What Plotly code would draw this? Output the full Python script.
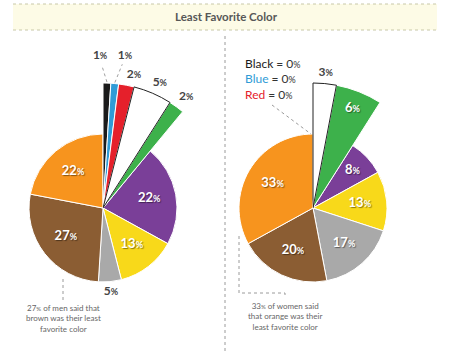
import numpy as np
import plotly.graph_objects as go

# ---------------- data ----------------
categories = ["Black", "Blue", "Red", "White", "Green", "Purple", "Yellow", "Gray", "Brown", "Orange"]
men_pct = [1, 1, 2, 5, 2, 22, 13, 5, 27, 22]
women_pct = [0, 0, 0, 3, 6, 8, 13, 17, 20, 33]
title_text = "Least Favorite Color"

# ---------------- style ----------------
W, H = 450, 351
fill = {"Black": "#1b1b1b", "Blue": "#2f9bd6", "Red": "#e5202b", "White": "#ffffff",
        "Green": "#3db14b", "Purple": "#7a3f98", "Yellow": "#f8d91a", "Gray": "#a9a9a9",
        "Brown": "#8b5d33", "Orange": "#f7941e"}
legend_col = {"Black": "#1b1b1b", "Blue": "#2f9bd6", "Red": "#e5202b"}
exploded = {"Black", "Blue", "Red", "White", "Green"}
R_IN, R_EX = 74, 125          # slice radii (px)
S_MAIN, S_EX = 90, 160        # polar radial extents (px)
SECTOR = [32, 96]
FONT = "Lato"

# label placement (style): category -> (radius, theta nudge, inside?)
men_lab = {"Black": (152, -2.9, False), "Blue": (154, 2.8, False), "Red": (137, 2.3, False),
           "White": (137, 1.1, False), "Green": (139, 0.8, False), "Gray": (84, 0, False)}
women_lab = {"White": (136, 0, False), "Green": (107, 0, True), "Purple": (54, 0, True)}
LEAD = {"Black", "Blue"}


def full_domain(cx, cy, r):
    return dict(x=[(cx - r) / W, (cx + r) / W], y=[(H - cy - r) / H, (H - cy + r) / H])


def sector_domain(cx, cy, r):
    xa = min(0.0, np.cos(np.deg2rad(SECTOR[1])))
    xb = np.cos(np.deg2rad(SECTOR[0]))
    return dict(x=[(cx + r * xa) / W, (cx + r * xb) / W], y=[(H - cy) / H, (H - cy + r) / H])


def pct_text(v, small):
    return f"{v}<span style='font-size:{small}px'>%</span>"


fig = go.Figure()


def add_chart(values, sub_main, sub_ex, labcfg):
    starts = np.concatenate([[0], np.cumsum(values)[:-1]])
    groups = {sub_main: dict(th=[], wd=[], rr=[], cols=[], lcol=[]),
              sub_ex: dict(th=[], wd=[], rr=[], cols=[], lcol=[])}
    labels = {}
    leads = []
    for c, v, s in zip(categories, values, starts):
        if v <= 0:
            continue
        mid = (s + v / 2) * 3.6
        big = c in exploded
        g = groups[sub_ex if big else sub_main]
        g["th"].append(mid)
        g["wd"].append(v * 3.6)
        g["rr"].append(R_EX if big else R_IN)
        g["cols"].append(fill[c])
        g["lcol"].append("#222222" if c == "White" else "#ffffff")
        rad, nudge, inside = labcfg.get(c, (47, 0, True))
        sub = sub_ex if rad > S_MAIN - 3 else sub_main
        key = (sub, inside)
        d = labels.setdefault(key, dict(r=[], t=[], s=[]))
        d["r"].append(rad)
        d["t"].append(mid + nudge)
        d["s"].append(pct_text(v, 9 if inside else 9))
        if c in LEAD and labcfg is men_lab:
            leads.append(([R_EX + 1, rad - 9], [mid, mid + nudge * 0.8]))
    for sub in (sub_main, sub_ex):
        g = groups[sub]
        # white slice drawn last so its dark outline stays visible
        order = sorted(range(len(g["th"])), key=lambda i: g["lcol"][i] != "#ffffff")
        fig.add_trace(go.Barpolar(r=[g["rr"][i] for i in order], theta=[g["th"][i] for i in order],
                                  width=[g["wd"][i] for i in order], subplot=sub,
                                  marker=dict(color=[g["cols"][i] for i in order],
                                              line=dict(color=[g["lcol"][i] for i in order], width=1)),
                                  hoverinfo="skip", showlegend=False))
    for lr, lt in leads:
        fig.add_trace(go.Scatterpolar(r=lr, theta=lt, mode="lines", subplot=sub_ex,
                                      line=dict(color="#a0a0a0", width=1, dash="dot"),
                                      hoverinfo="skip", showlegend=False))
    for (sub, inside), d in labels.items():
        if inside:
            tf = dict(family=FONT, size=13, color="#ffffff", weight="bold",
                      shadow="1px 1px 1px rgba(0,0,0,0.45)")
        else:
            tf = dict(family=FONT, size=12, color="#444444", weight="bold")
        fig.add_trace(go.Scatterpolar(r=d["r"], theta=d["t"], text=d["s"], mode="text",
                                      subplot=sub, cliponaxis=False, hoverinfo="skip",
                                      showlegend=False, textfont=tf))


add_chart(men_pct, "polar", "polar2", men_lab)
add_chart(women_pct, "polar3", "polar4", women_lab)


def polar_style(rmax, sector):
    return dict(bgcolor="rgba(0,0,0,0)", sector=sector,
                radialaxis=dict(visible=False, range=[0, rmax], showline=False, showgrid=False),
                angularaxis=dict(visible=False, rotation=90, direction="clockwise",
                                 showline=False, showgrid=False))


dot = dict(color="#9a9a9a", width=1, dash="dot")
shapes = [
    dict(type="rect", xref="paper", yref="paper", x0=13 / W, x1=437 / W, y0=1 - 30 / H, y1=1 - 4 / H,
         fillcolor="#fdfbe6", line=dict(width=0), layer="below"),
    dict(type="line", xref="paper", yref="paper", x0=13 / W, x1=437 / W, y0=1 - 4 / H, y1=1 - 4 / H,
         line=dict(color="#c8c8a8", width=1, dash="dot")),
    dict(type="line", xref="paper", yref="paper", x0=13 / W, x1=437 / W, y0=1 - 30 / H, y1=1 - 30 / H,
         line=dict(color="#c8c8a8", width=1, dash="dot")),
    dict(type="line", xref="paper", yref="paper", x0=225 / W, x1=225 / W, y0=0, y1=1 - 33 / H, line=dot),
    dict(type="line", xref="paper", yref="paper", x0=63 / W, x1=63 / W, y0=1 - 279 / H, y1=1 - 301 / H,
         line=dot),
    dict(type="path", xref="paper", yref="paper",
         path=f"M {239 / W},{1 - 236 / H} L {239 / W},{1 - 293 / H} L {285 / W},{1 - 293 / H} L {285 / W},{1 - 298 / H}",
         line=dot),
    dict(type="line", xref="paper", yref="paper", x0=272 / W, x1=311 / W, y0=1 - 105 / H, y1=1 - 134 / H,
         line=dot),
]

men_brown = men_pct[categories.index("Brown")]
women_orange = women_pct[categories.index("Orange")]
note_font = dict(family=FONT, size=8, color="#666666")
annotations = [
    dict(text=f"<b>{title_text}</b>", x=226 / W, y=1 - 17 / H, xref="paper", yref="paper",
         xanchor="center", yanchor="middle", showarrow=False,
         font=dict(family=FONT, size=11.5, color="#575757")),
    dict(text=f"{pct_text(men_brown, 6)} of men said that<br>brown was their least<br>favorite color",
         x=63.5 / W, y=1 - 318 / H, xref="paper", yref="paper", xanchor="center", yanchor="middle",
         showarrow=False, align="center", font=note_font),
    dict(text=f"{pct_text(women_orange, 6)} of women said<br>that orange was their<br>least favorite color",
         x=285 / W, y=1 - 316 / H, xref="paper", yref="paper", xanchor="center", yanchor="middle",
         showarrow=False, align="center", font=note_font),
]
for i, c in enumerate(["Black", "Blue", "Red"]):
    v = women_pct[categories.index(c)]
    annotations.append(dict(
        text=f"<span style='color:{legend_col[c]}'>{c}</span> = {pct_text(v, 9)}",
        x=243 / W, y=1 - (64 + 15 * i) / H, xref="paper", yref="paper", xanchor="left",
        yanchor="middle", showarrow=False, font=dict(family=FONT, size=12, color="#333333")))

fig.update_layout(
    width=W, height=H, margin=dict(l=0, r=0, t=0, b=0),
    paper_bgcolor="#ffffff", plot_bgcolor="#ffffff",
    polar=dict(domain=full_domain(103, 208, S_MAIN), **polar_style(S_MAIN, [0, 360])),
    polar2=dict(domain=sector_domain(103, 208, S_EX), **polar_style(S_EX, SECTOR)),
    polar3=dict(domain=full_domain(313, 208, S_MAIN), **polar_style(S_MAIN, [0, 360])),
    polar4=dict(domain=sector_domain(313, 208, S_EX), **polar_style(S_EX, SECTOR)),
    shapes=shapes, annotations=annotations, showlegend=False,
)

fig.write_html("out.html")
